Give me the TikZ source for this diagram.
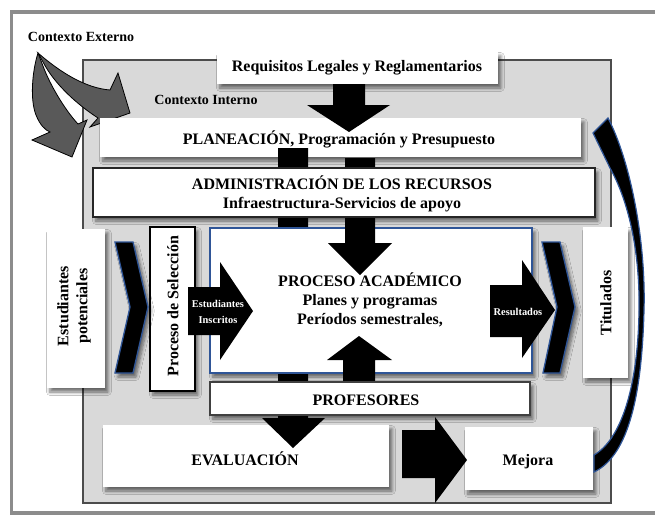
\documentclass[tikz,border=0pt]{standalone}
\usepackage{fontspec}
\setmainfont{Liberation Serif}
\usetikzlibrary{fit,shadows.blur}
\definecolor{bblue}{HTML}{2F5597}
\definecolor{ingray}{HTML}{D9D9D9}
\definecolor{agray}{HTML}{595959}
\tikzset{
  shad/.style={blur shadow={shadow xshift=2.2pt, shadow yshift=-3pt, shadow blur steps=6, shadow blur radius=2.5pt, shadow opacity=55}},
  wbox/.style={fill=white, inner sep=0pt, shad},
  txt/.style={font=\fontsize{12}{14.2}\selectfont\bfseries, align=center, inner sep=0pt},
  ctxt/.style={font=\fontsize{10.5}{12}\selectfont\bfseries, inner sep=0pt},
  small/.style={font=\fontsize{7.8}{11.5}\selectfont\bfseries, text=white, align=center, inner sep=0pt},
  blk/.style={fill=black},
  garrow/.style={fill=agray, draw=black, line width=0.6pt, line join=miter},
  chev/.style={fill=black, draw=bblue, line width=1pt, shad},
}
\begin{document}
\begin{tikzpicture}[x=0.75pt,y=-0.75pt]
\fill[white] (0,0) rectangle (655,515);
\useasboundingbox (0,0) rectangle (655,515);
% outer frame
\draw[line width=2.6pt, draw=black!45] (11.5,12) rectangle (700,513);
% inner context
\draw[fill=ingray, draw=black!70, line width=0.8pt] (83,60) rectangle (611,503);
\node[ctxt] (ctxe) at (81,37) {Contexto Externo};
\node[ctxt] (ctxi) at (206,100) {Contexto Interno};
% context arrows
\filldraw[garrow] (38,53) .. controls (32,72) and (30,100) .. (36,115) .. controls (40,125) and (45,130) .. (50,132) -- (32,140) -- (72,157) -- (87,120) -- (78,124) .. controls (65,110) and (50,85) .. (43,66) -- cycle;
\filldraw[garrow] (38,53) .. controls (60,72) and (85,88) .. (110,90) -- (118,73) -- (130,113) -- (90,127) -- (98,118) .. controls (78,105) and (55,85) .. (43,62) -- cycle;
% planeacion
\node[wbox, fit={(100,118) (581,157)}] (plan) {};
\fill[blk] (333,80) -- (365,80) -- (365,105) -- (390,105) -- (349,132) -- (307,105) -- (333,105) -- cycle;
\node[wbox, fit={(217,52) (498,84)}] (req) {};
% evaluacion, mejora
\node[wbox, fit={(103,425) (389,487)}] (eval) {};
\node[wbox, fit={(465,427) (593,490)}] (mej) {};
% long left bar to evaluacion
\fill[blk] (278,148) -- (308,148) -- (308,418) -- (325,418) -- (293,448) -- (262,418) -- (278,418) -- cycle;
% proceso academico
\node[wbox, draw=bblue, line width=1.5pt, fit={(210,228) (532,373)}] (proc) {};
\fill[blk] (345,158) -- (375,158) -- (375,243) -- (392,243) -- (360,275) -- (328,243) -- (345,243) -- cycle;
\fill[blk] (343,390) -- (375,390) -- (375,360) -- (392,360) -- (359,336) -- (327,360) -- (343,360) -- cycle;
% administracion, profesores
\node[wbox, draw=black!85, line width=2.2pt, fit={(93,168) (595,217)}] (admin) {};
\node[wbox, draw=black!75, line width=2.2pt, fit={(210,382) (530,415)}] (prof) {};
% side boxes
\node[wbox, fit={(47,229) (105,388)}] (estp) {};
\node[wbox, draw=black, line width=2.2pt, fit={(150,227) (195,391)}] (sel) {};
\node[wbox, fit={(583,227) (628,378)}] (tit) {};
% chevrons
\filldraw[chev] (115,242) -- (133,242) -- (148,307) -- (133,373) -- (115,373) -- (130,307) -- cycle;
\filldraw[chev] (542,242) -- (560,242) -- (575,307) -- (560,373) -- (543,373) -- (557,307) -- cycle;
% inscritos / resultados arrows
\fill[blk] (188,287) -- (220,287) -- (220,262) -- (253,311) -- (220,360) -- (220,335) -- (188,335) -- cycle;
\fill[blk] (490,285) -- (522,285) -- (522,260) -- (555,310) -- (522,358) -- (522,337) -- (490,337) -- cycle;
% evaluacion -> mejora
\fill[blk] (402,430) -- (435,430) -- (435,417) -- (467,460) -- (435,503) -- (435,478) -- (402,478) -- cycle;
% feedback curve
\filldraw[fill=black, draw=bblue, line width=0.9pt, line join=miter] (593,133) -- (608,118) .. controls (630,160) and (646,240) .. (644,310) .. controls (642,390) and (630,455) .. (594,472) -- (594,455) .. controls (620,440) and (638,390) .. (639,310) .. controls (640,250) and (628,200) .. (610,168) -- cycle;
% texts
\node[txt] (reqt) at (357,68) {Requisitos Legales y Reglamentarios};
\node[txt] (plant) at (339,139) {PLANEACIÓN, Programación y Presupuesto};
\node[txt] (admint) at (342,194) {ADMINISTRACIÓN DE LOS RECURSOS\\Infraestructura-Servicios de apoyo};
\node[txt] (proct) at (370,300) {PROCESO ACADÉMICO\\Planes y programas\\Períodos semestrales,};
\node[txt] (proft) at (366,400) {PROFESORES};
\node[txt] (evalt) at (245,459) {EVALUACIÓN};
\node[txt] (mejt) at (528,462) {Mejora};
\node[txt, rotate=90] (estpl) at (74,306) {Estudiantes\\potenciales};
\node[txt, rotate=90] (sell) at (173,306) {Proceso de Selección};
\node[txt, rotate=90] (titl) at (606,303) {Titulados};
\node[small] (ins) at (218,312) {Estudiantes\\Inscritos};
\node[small] (res) at (518,312) {Resultados};
\end{tikzpicture}
\end{document}
